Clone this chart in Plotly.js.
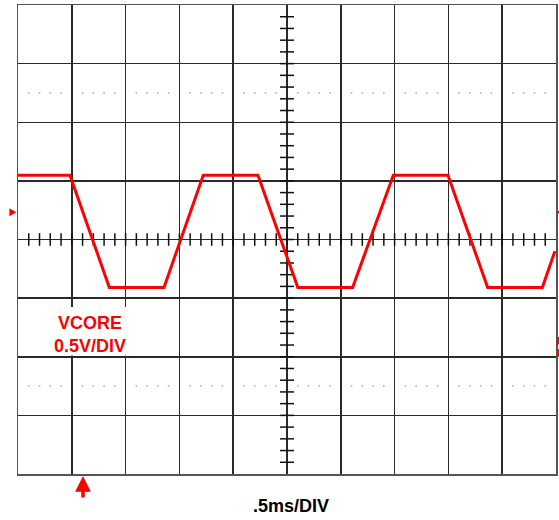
<!DOCTYPE html>
<html>
<head>
<meta charset="utf-8">
<script src="https://cdn.plot.ly/plotly-3.0.1.min.js"></script>
<style>html,body{margin:0;padding:0;background:#fff;}#chart{width:559px;height:520px;}</style>
</head>
<body>
<div id="chart"></div>
<script>
// Waveform (time in ms, voltage in V relative to screen centre)
const timeMs = [0, 0.483, 0.849, 1.357, 1.722, 2.230, 2.574, 2.600, 3.110, 3.488, 3.996, 4.365, 4.873, 4.99];
const vcoreV = [0.548, 0.548, -0.409, -0.409, 0.548, 0.548, -0.34, -0.409, -0.409, 0.548, 0.548, -0.409, -0.409, -0.10];
const timePerDiv = 0.5;   // ms/div
const voltPerDiv = 0.5;   // V/div
const xDivs = 10, yDivs = 8;
const groundLevelV = 0.233;
const triggerTimeMs = 0.604;
const channelLabel = "VCORE<br>0.5V/DIV";
const timebaseLabel = ".5ms/DIV";

const xMax = xDivs * timePerDiv;
const yMax = yDivs / 2 * voltPerDiv;
const xCenter = xMax / 2;

// graticule decoration: minor ticks on centre cross, dotted lines
const minorX = [], minorY = [];
for (let i = 1; i < xDivs * 5; i++) minorX.push(i * timePerDiv / 5);
for (let i = -yDivs * 5 / 2 + 1; i < yDivs * 5 / 2; i++) minorY.push(i * voltPerDiv / 5);
const dotX = [], dotY = [];
[yMax - 1.5 * voltPerDiv, -yMax + 1.5 * voltPerDiv].forEach(yv => {
  minorX.forEach((x, i) => { if ((i + 1) % 5 !== 0) { dotX.push(x); dotY.push(yv); } });
});

const traces = [
  {x: dotX, y: dotY, mode: 'markers', type: 'scatter', marker: {color: '#bdbdbd', size: 2}, hoverinfo: 'skip'},
  {x: minorX, y: minorX.map(() => 0), mode: 'markers', type: 'scatter',
   marker: {symbol: 'line-ns', size: 9, line: {color: '#111', width: 1.5}}, hoverinfo: 'skip'},
  {x: minorY.map(() => xCenter), y: minorY, mode: 'markers', type: 'scatter',
   marker: {symbol: 'line-ew', size: 10, line: {color: '#111', width: 1.5}}, hoverinfo: 'skip'},
  {x: timeMs, y: vcoreV, mode: 'lines', type: 'scatter', line: {color: '#ff0000', width: 3}, hoverinfo: 'skip'}
];

const axisCommon = {showgrid: true, gridcolor: '#2a2a2a', gridwidth: 1.5, zeroline: false,
  showticklabels: false, ticks: '', showline: true, linecolor: '#555', linewidth: 1.5, mirror: true, fixedrange: true};

const mk = 4 / 58.6 * voltPerDiv; // half height of ground marker
const layout = {
  width: 559, height: 520,
  margin: {l: 18, r: 3, t: 5, b: 46},
  paper_bgcolor: '#fff', plot_bgcolor: '#fff',
  showlegend: false,
  xaxis: Object.assign({}, axisCommon, {range: [0, xMax], dtick: timePerDiv, tick0: 0}),
  yaxis: Object.assign({}, axisCommon, {range: [-yMax, yMax], dtick: voltPerDiv, tick0: 0}),
  shapes: [
    {type: 'rect', xref: 'paper', yref: 'paper', x0: 0.003, x1: 0.21, y0: 0.2525, y1: 0.356,
     fillcolor: '#ffffff', line: {width: 0}, layer: 'above'},
    {type: 'path', xref: 'paper', yref: 'y', fillcolor: '#ff0000', line: {width: 0},
     path: `M -0.016,${groundLevelV + mk} L -0.003,${groundLevelV} L -0.016,${groundLevelV - mk} Z`},
    {type: 'path', xref: 'paper', yref: 'y', fillcolor: '#ff0000', line: {width: 0},
     path: `M 1.013,${groundLevelV + mk} L 1.001,${groundLevelV} L 1.013,${groundLevelV - mk} Z`},
    {type: 'line', xref: 'paper', yref: 'paper', x0: 1.0045, x1: 1.0045, y0: 0.292, y1: 0.276,
     line: {color: '#ff0000', width: 2.5}},
    {type: 'line', xref: 'paper', yref: 'paper', x0: 1.0045, x1: 1.0045, y0: 0.266, y1: 0.250,
     line: {color: '#ff0000', width: 2.5}}
  ],
  annotations: [
    {text: channelLabel, x: 0.134, y: 0.298, xref: 'paper', yref: 'paper', xanchor: 'center', yanchor: 'middle',
     showarrow: false, align: 'center',
     font: {family: 'Liberation Sans, Arial, sans-serif', size: 18, color: '#ff0000', weight: 'bold'}},
    {text: timebaseLabel, x: 0.508, y: -0.068, xref: 'paper', yref: 'paper', xanchor: 'center', yanchor: 'middle',
     showarrow: false,
     font: {family: 'Liberation Sans, Arial, sans-serif', size: 18, color: '#000', weight: 'bold'}},
    {text: '', x: triggerTimeMs, y: -yMax, xref: 'x', yref: 'y', yshift: -2,
     showarrow: true, ax: 0, ay: 23, arrowhead: 2, arrowsize: 0.9, arrowwidth: 3.5, arrowcolor: '#ff0000'}
  ]
};

Plotly.newPlot('chart', traces, layout, {staticPlot: true, displayModeBar: false});
</script>
</body>
</html>
